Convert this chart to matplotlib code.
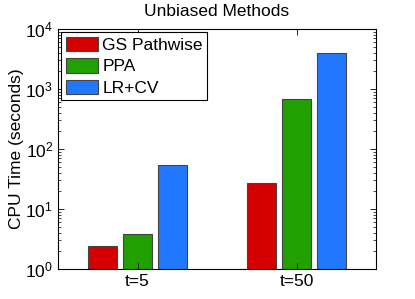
import numpy as np
import matplotlib.pyplot as plt
from matplotlib.ticker import LogLocator, NullFormatter

plt.rcParams['font.family'] = ['Liberation Sans', 'DejaVu Sans']

groups = ["t=5", "t=50"]
methods = ["GS Pathwise", "PPA", "LR+CV"]
cpu_time = {
    "GS Pathwise": [2.45, 27],
    "PPA": [3.8, 690],
    "LR+CV": [54, 4000],
}
colors = ["#d60000", "#21a100", "#2178ff"]

fig = plt.figure(figsize=(4.15, 2.99), dpi=100)
ax = fig.add_axes([58 / 415, 1 - 269 / 299, 318 / 415, 240 / 299])

x = np.arange(1, len(groups) + 1)
width = 0.18
step = 0.22
for i, (m, c) in enumerate(zip(methods, colors)):
    ax.bar(x + (i - 1) * step, cpu_time[m], width, color=c,
           edgecolor="#444444", linewidth=0.8, label=m)

ax.set_yscale("log")
ax.set_ylim(1, 1e4)
ax.set_xlim(0.5, 2.5)
ax.set_xticks(x)
ax.set_xticklabels(groups)
ax.yaxis.set_major_locator(LogLocator(base=10, numticks=10))
ax.yaxis.set_minor_locator(LogLocator(base=10, subs=np.arange(2, 10), numticks=10))
ax.yaxis.set_minor_formatter(NullFormatter())
ax.tick_params(which="both", direction="in", top=True, right=True, labelsize=12.5)
ax.tick_params(which="major", length=4, width=0.6)
ax.tick_params(which="minor", length=2, width=0.5)
for s in ax.spines.values():
    s.set_linewidth(0.8)

ax.set_title("Unbiased Methods", fontsize=12.5, pad=9)
ax.set_ylabel("CPU Time (seconds)", fontsize=12.5, labelpad=1)
leg = ax.legend(loc="upper left", fontsize=12.5, fancybox=False, framealpha=1,
                edgecolor="black", handlelength=1.85, handleheight=0.9,
                borderaxespad=0.2, labelspacing=0.3, handletextpad=0.25,
                borderpad=0.25)
leg.get_frame().set_linewidth(0.8)

fig.savefig("out.png", dpi=100)
